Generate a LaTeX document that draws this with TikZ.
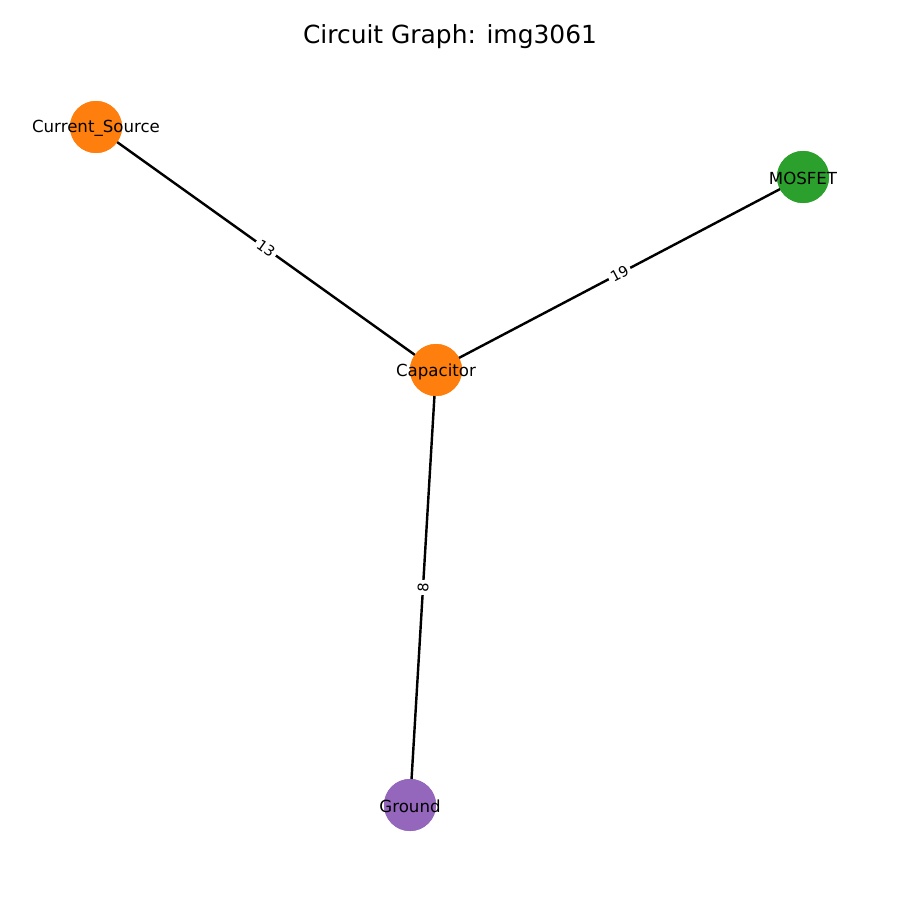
\documentclass[tikz,border=0pt]{standalone}
\usepackage{fontspec}
\setmainfont{DejaVu Sans}
\definecolor{morange}{HTML}{FF7F0E}
\definecolor{mgreen}{HTML}{2CA02C}
\definecolor{mpurple}{HTML}{9467BD}
\begin{document}
\begin{tikzpicture}[x=0.01in,y=-0.01in,
  vertex/.style={circle,minimum size=0.52in,inner sep=0pt,draw=none},
  vlabel/.style={font=\fontsize{12}{14}\selectfont,text=black,yshift=-0.015in},
  wire/.style={line width=1.75pt,black},
  weight/.style={midway,sloped,fill=white,inner sep=2pt,font=\fontsize{10.5}{12}\selectfont}]
  \useasboundingbox[fill=white] (0,0) rectangle (900,900);
  \node[font=\fontsize{18}{21}\selectfont] (title) at (450,37) {Circuit Graph: img3061};
  % component vertices
  \node[vertex,fill=morange] (cs) at (96,127) {};
  \node[vertex,fill=mgreen] (mos) at (803,177) {};
  \node[vertex,fill=morange] (cap) at (436,370) {};
  \node[vertex,fill=mpurple] (gnd) at (410,805) {};
  % weighted connections
  \draw[wire] (cs.center) -- (cap.center) node[weight] {13};
  \draw[wire] (cap.center) -- (mos.center) node[weight] {19};
  \draw[wire] (cap.center) -- (gnd.center) node[weight] {8};
  % redraw vertices over the wires
  \fill[morange] (cs) circle (0.26in);
  \fill[mgreen] (mos) circle (0.26in);
  \fill[morange] (cap) circle (0.26in);
  \fill[mpurple] (gnd) circle (0.26in);
  \node[vlabel] (csl) at (cs) {Current\_Source};
  \node[vlabel] (mosl) at (mos) {MOSFET};
  \node[vlabel] (capl) at (cap) {Capacitor};
  \node[vlabel] (gndl) at (gnd) {Ground};
\end{tikzpicture}
\end{document}
